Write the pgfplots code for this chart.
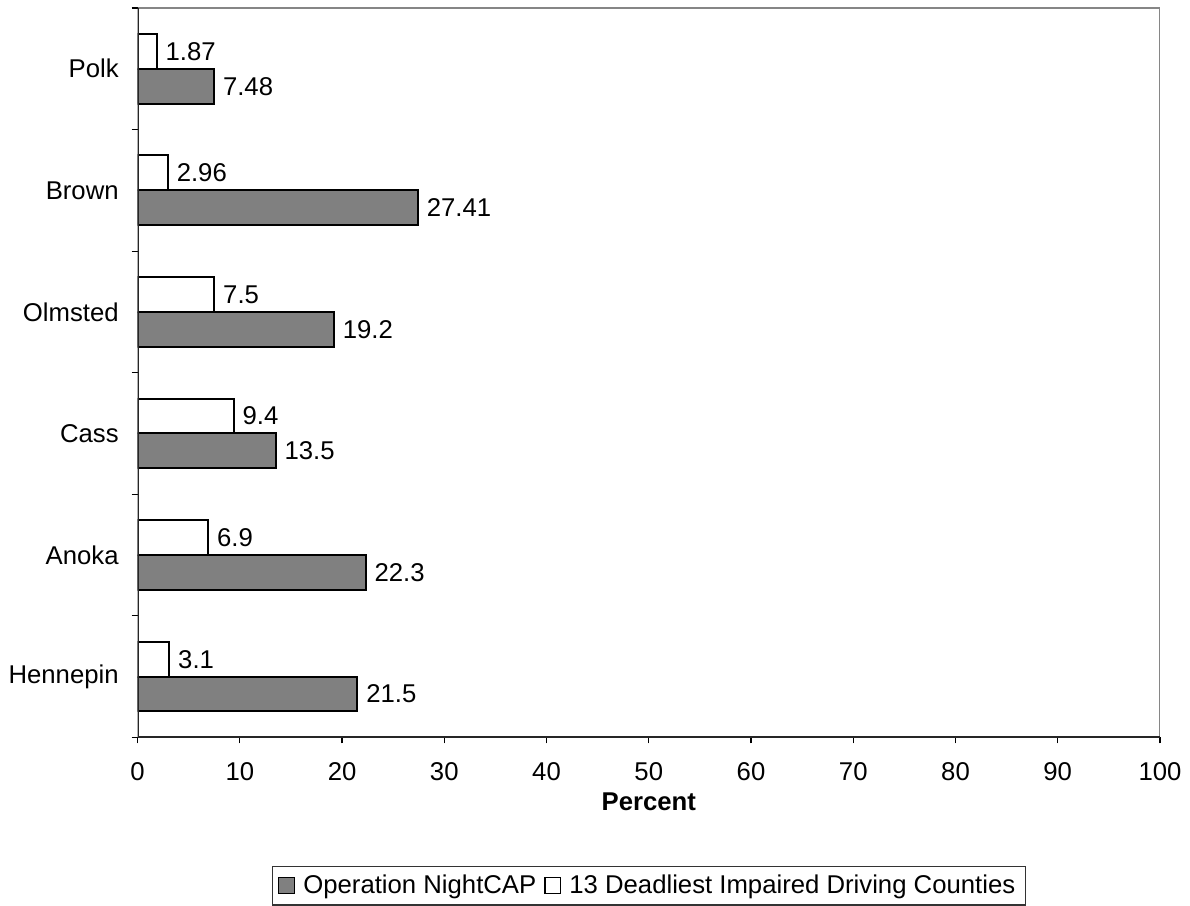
\documentclass[border=0pt]{standalone}
\usepackage{fontspec}
\setmainfont{Liberation Sans}
\usepackage{pgfplots}
\pgfplotsset{compat=1.18}
\definecolor{barg}{HTML}{808080}
\definecolor{frameg}{HTML}{868686}
\begin{document}
\fontsize{12.9}{15}\selectfont
\begin{tikzpicture}
\begin{axis}[
  name=ax,
  scale only axis,
  width=513pt, height=366pt,
  xbar,
  bar width=17.5pt,
  xmin=0, xmax=100,
  ymin=-0.5, ymax=5.5,
  xtick={0,10,...,100},
  ytick={0,...,5},
  yticklabels={Hennepin,Anoka,Cass,Olmsted,Brown,Polk},
  minor ytick={-0.5,0.5,...,5.5},
  tick align=outside,
  tick pos=left,
  major tick length=3pt,
  minor tick length=3pt,
  major y tick style={draw=none},
  minor y tick style={black, line width=0.6pt},
  major x tick style={black, line width=0.6pt},
  axis line style={draw=none},
  /pgf/number format/assume math mode=true,
  xticklabel style={yshift=-5pt},
  yticklabel style={xshift=-2pt},
  xlabel={\bfseries Percent},
  xlabel style={yshift=2.5pt},
  nodes near coords,
  point meta=explicit symbolic,
  nodes near coords style={anchor=west, inner sep=4pt, black},
  legend columns=2,
  legend style={at={(0.5,0)}, anchor=north, yshift=-64.5pt,
    draw=black!80, line width=0.6pt, font=\fontsize{12.9}{15}\selectfont,
    /tikz/every odd column/.append style={column sep=2pt},
    /tikz/every even column/.append style={column sep=2pt},
    inner xsep=3pt, inner ysep=2pt},
  legend image code/.code={\draw[#1, line width=0.6pt] (0pt,-4pt) rectangle (8pt,4pt);},
]
\addplot[fill=barg, draw=black, line width=1pt, bar shift=-8.75pt] coordinates {
  (21.5,0) [21.5]
  (22.3,1) [22.3]
  (13.5,2) [13.5]
  (19.2,3) [19.2]
  (27.41,4) [27.41]
  (7.48,5) [7.48]
};
\addlegendentry{Operation NightCAP}
\addplot[fill=white, draw=black, line width=1pt, bar shift=8.75pt] coordinates {
  (3.1,0) [3.1]
  (6.9,1) [6.9]
  (9.4,2) [9.4]
  (7.5,3) [7.5]
  (2.96,4) [2.96]
  (1.87,5) [1.87]
};
\addlegendentry{13 Deadliest Impaired Driving Counties}
\draw[frameg, line width=1.2pt] (rel axis cs:0,1) -- (rel axis cs:1,1) -- (rel axis cs:1,0);
\draw[black!85, line width=1pt] (rel axis cs:0,1) -- (rel axis cs:0,0) -- (rel axis cs:1,0);
\end{axis}
\path ([xshift=-68pt,yshift=-84.5pt]ax.south west) rectangle ([xshift=14pt,yshift=4pt]ax.north east);
\end{tikzpicture}
\end{document}
